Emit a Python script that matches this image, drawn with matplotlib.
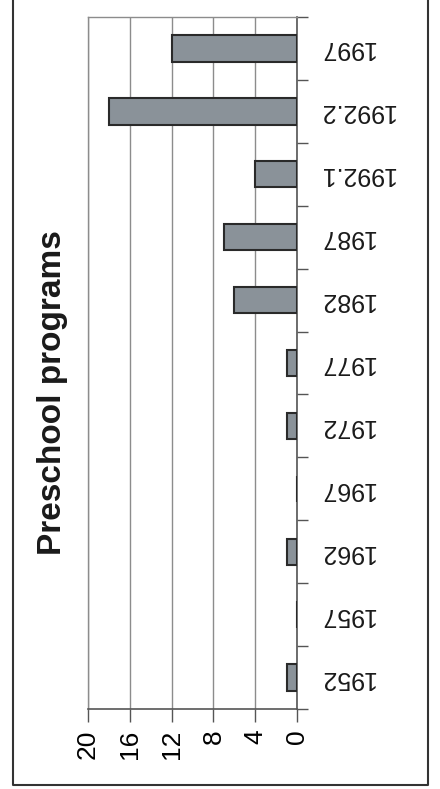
import numpy as np
import matplotlib
matplotlib.use("Agg")
import matplotlib.pyplot as plt
from matplotlib.lines import Line2D

# ========= DATA =========
years = ["1952", "1957", "1962", "1967", "1972", "1977",
         "1982", "1987", "1992.1", "1992.2", "1997"]
programs = [1, 0, 1, 0, 1, 1, 6, 7, 4, 18, 12]
value_ticks = [0, 4, 8, 12, 16, 20]
title = "Preschool programs"

# ========= STYLE =========
plt.rcParams["font.family"] = ["Liberation Sans", "DejaVu Sans"]
BAR_FACE = "#8a9299"
BAR_EDGE = "#2a2a2a"
GRID = "#8c8c8c"
AXIS = "#555555"

W, H = 440, 789
fig = plt.figure(figsize=(W / 100, H / 100), dpi=100)
ax = fig.add_axes([88 / W, 80 / H, 209 / W, 692 / H])

pos = np.arange(len(years))
ax.barh(pos, programs, height=0.42, color=BAR_FACE,
        edgecolor=BAR_EDGE, linewidth=1.5, zorder=3)

ax.set_xlim(20, 0)
ax.set_ylim(-0.5, len(years) - 0.5)

# value axis (bottom)
ax.set_xticks(value_ticks)
ax.set_xticklabels([str(v) for v in value_ticks], rotation=90, fontsize=19)
ax.tick_params(axis="x", direction="out", length=9, width=1,
               color=AXIS, pad=6)
ax.grid(axis="x", color=GRID, linewidth=1, zorder=0)

# category axis (right), ticks between categories, labels upside down
ax.yaxis.tick_right()
ax.set_yticks(np.arange(-0.5, len(years), 1.0))
ax.set_yticklabels([])
ax.set_yticks(pos, minor=True)
ax.set_yticklabels(years, minor=True, rotation=180, fontsize=18,
                   ha="left", va="center", color="#1a1a1a")
ax.tick_params(axis="y", which="major", direction="out", length=8,
               width=1, color=AXIS)
ax.tick_params(axis="y", which="minor", length=0, pad=16)

for side in ["left", "top"]:
    ax.spines[side].set_color(GRID)
    ax.spines[side].set_linewidth(1)
for side in ["right", "bottom"]:
    ax.spines[side].set_color(AXIS)
    ax.spines[side].set_linewidth(1.2)

fig.text(53 / W, 1 - 393 / H, title, rotation=90, ha="center", va="center",
         fontsize=24, fontweight="bold", color="#1a1a1a")

# outer frame (top edge cropped off)
x0, x1, y0 = 12.5 / W, 428 / W, 1 - 785 / H
fig.add_artist(Line2D([x0, x0, x1, x1], [1.0, y0, y0, 1.0],
                      transform=fig.transFigure, color="#333333",
                      linewidth=1.5))

fig.savefig("out.png", dpi=100, facecolor="white")
